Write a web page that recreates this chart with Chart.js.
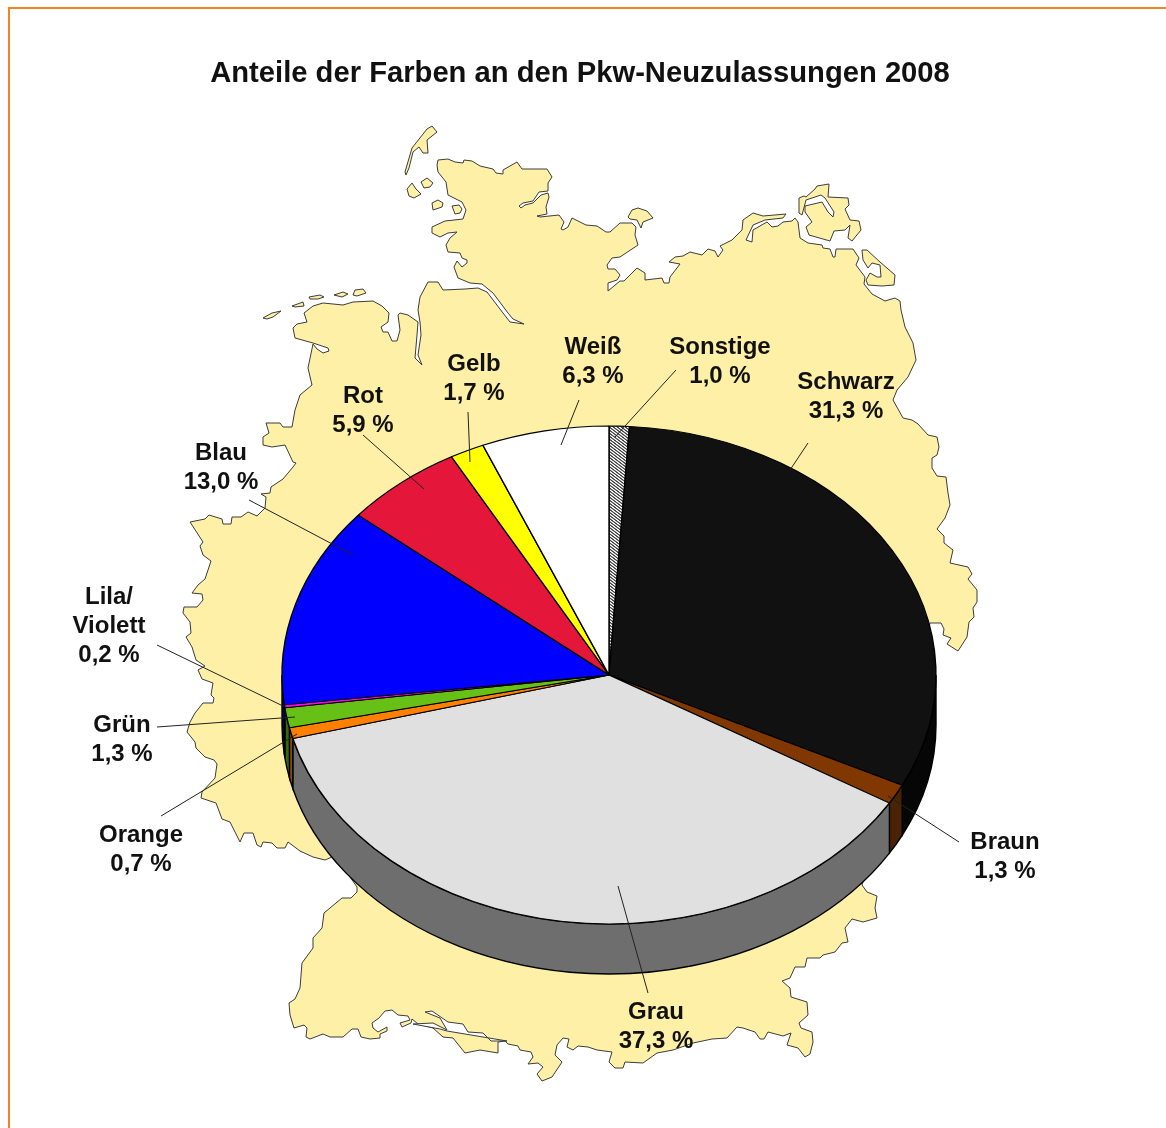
<!DOCTYPE html>
<html lang="de">
<head>
<meta charset="utf-8">
<title>Anteile der Farben an den Pkw-Neuzulassungen 2008</title>
<script src="https://cdn.jsdelivr.net/npm/chart.js@4"></script>
<style>
  html, body { margin: 0; padding: 0; background: #fff; }
  #page { position: relative; width: 1166px; height: 1128px; overflow: hidden; }
  #frame { position: absolute; left: 8px; top: 7px; right: -10px; bottom: -10px; border-top: 2px solid #f58220; border-left: 2px solid #f58220; }
  #map, #chart { position: absolute; left: 0; top: 0; }
  #map polygon { fill: #fef0a7; stroke: #3c3c3c; stroke-width: 1; stroke-linejoin: round; }
  #map polygon.lake { fill: #fff; }
</style>
</head>
<body>
<div id="page">
  <div id="frame"></div>
  <!-- background map, traced by hand -->
  <svg id="map" width="1166" height="1128">
    <polygon points="438,160 448,159 455,162 463,163 464,160 472,161 480,166 493,169 496,173 503,174 503,170 517,162 522,169 547,169 552,177 548,183 548,191 539,192 533,201 523,203 519,206 521,208 525,205 533,203 541,195 548,193 549,197 546,207 547,214 537,216 540,217 559,215 564,222 561,229 563,230 568,227 572,218 586,225 597,226 606,232 610,232 620,223 632,223 636,227 635,235 638,245 620,257 612,258 607,265 608,269 615,269 620,275 617,280 608,283 608,291 620,281 624,281 637,268 645,273 645,280 662,278 664,283 669,283 670,277 680,264 669,262 675,257 683,256 690,252 702,255 708,249 715,251 718,257 723,250 720,246 732,240 742,230 743,220 753,213 763,216 786,214 783,218 765,220 753,225 746,240 752,242 753,230 767,222 772,227 778,226 783,222 792,221 795,218 798,222 800,238 808,243 822,245 823,248 830,249 833,257 835,257 836,249 853,249 859,258 856,265 865,277 864,284 872,294 885,301 895,298 900,301 901,310 905,327 913,343 916,360 908,377 897,390 893,400 903,418 912,420 918,424 928,435 937,437 939,447 937,455 932,458 932,468 937,476 946,477 948,493 950,505 945,518 937,529 944,536 944,543 953,550 950,563 968,567 972,574 968,579 977,590 977,602 973,608 974,617 969,622 967,637 958,651 947,644 951,638 943,635 944,629 941,623 930,623 900,760 862,885 867,892 877,896 875,908 877,918 863,922 852,919 845,928 848,942 842,943 835,952 823,955 820,958 807,958 805,967 795,967 790,978 782,981 790,988 791,997 807,1002 808,1015 799,1023 801,1028 812,1032 813,1042 810,1054 805,1057 798,1048 787,1045 791,1033 783,1036 768,1032 764,1039 760,1039 755,1032 743,1028 737,1027 727,1038 712,1039 693,1043 673,1050 657,1053 643,1063 625,1062 623,1068 615,1068 609,1062 612,1052 597,1050 588,1047 578,1046 573,1050 567,1047 569,1039 563,1038 557,1045 555,1055 562,1062 552,1077 542,1081 537,1074 543,1067 538,1063 528,1064 533,1057 531,1052 520,1050 518,1046 508,1044 505,1041 498,1042 498,1053 480,1050 465,1053 453,1038 443,1037 433,1028 418,1024 412,1019 411,1023 402,1027 400,1023 410,1020 408,1016 398,1015 392,1010 385,1011 379,1018 372,1023 373,1028 378,1032 387,1027 387,1031 380,1034 380,1038 370,1039 361,1037 358,1029 352,1029 343,1037 330,1037 323,1034 310,1039 306,1037 307,1028 304,1025 294,1028 290,1015 289,1003 295,999 300,988 302,963 313,948 313,938 322,928 324,913 342,898 351,898 357,892 357,887 345,870 332,857 325,860 313,857 300,851 288,842 285,848 277,848 272,843 263,842 261,847 257,845 253,833 244,833 240,842 230,822 222,819 216,803 201,798 202,792 215,778 217,764 214,760 205,757 196,748 195,742 187,732 190,722 195,713 203,703 213,703 214,698 211,695 213,683 202,679 198,670 205,666 196,660 192,647 186,637 191,633 190,622 183,613 184,607 197,607 203,600 202,594 192,593 198,585 205,579 211,561 203,555 200,546 203,542 190,522 205,519 209,515 222,519 223,524 231,524 232,517 241,517 248,512 257,516 265,508 266,497 261,494 270,493 271,487 283,479 293,467 296,463 293,462 285,445 272,447 263,445 263,437 269,433 266,423 280,423 283,427 292,427 295,410 300,395 312,385 308,368 313,344 317,349 323,353 329,351 328,348 313,343 295,338 293,328 297,324 307,322 304,313 313,306 323,303 343,305 353,302 373,301 382,306 389,313 388,322 381,327 383,332 388,332 392,341 397,341 400,330 398,315 400,313 408,315 418,322 417,335 415,358 422,365 418,355 421,335 420,322 418,310 420,297 428,282 438,282 443,290 465,289 478,288 487,292 503,313 510,322 524,324 513,319 508,313 493,293 482,284 470,283 458,278 454,267 457,261 462,267 467,263 467,260 462,258 460,253 448,252 446,245 450,238 457,232 448,233 440,237 432,233 432,227 445,221 463,219 466,210 462,202 448,195 446,182 438,172 437,165"/>
    <polygon class="lake" points="425,1012 432,1011 448,1022 463,1024 468,1032 483,1033 491,1041 507,1041 447,1031 440,1029 413,1024 433,1023 447,1030 440,1018"/>
    <polygon points="427,129 432,126 437,132 427,140 428,153 423,153 419,147 413,152 409,168 406,175 405,172 412,148"/>
    <polygon points="421,182 427,178 433,183 430,187 424,188"/>
    <polygon points="407,189 412,183 416,189 421,194 414,198 409,196"/>
    <polygon points="432,203 438,200 443,203 442,207 433,210"/>
    <polygon points="452,206 459,205 462,209 460,213 455,214"/>
    <polygon points="628,217 632,210 638,208 647,211 653,218 643,222 641,228 637,220 630,219"/>
    <polygon points="263,318 272,313 281,311 273,317 267,319"/>
    <polygon points="292,306 303,302 304,306 295,307"/>
    <polygon points="309,297 320,295 324,297 318,299 310,299"/>
    <polygon points="334,295 343,292 348,294 342,297"/>
    <polygon points="353,295 355,290 363,289 366,293 357,296"/>
    <polygon points="799,198 804,196 806,197 815,189 817,186 829,184 828,197 848,198 849,205 845,209 850,220 859,221 861,230 852,241 848,238 850,225 845,230 834,231 830,241 809,235 806,227 812,222 805,212 805,206 822,202 828,212 833,217 834,212 825,198 821,195 806,200 802,215 799,213"/>
    <polygon points="862,250 867,250 880,262 895,275 894,285 882,286 868,285 866,280 870,273 877,277 881,277 880,265 872,263 868,268 863,260"/>
  </svg>
  <canvas id="chart" width="1166" height="1128"></canvas>
</div>

<script>
  const categories = ['Sonstige', 'Schwarz', 'Braun', 'Grau', 'Orange', 'Grün', 'Lila/\nViolett', 'Blau', 'Rot', 'Gelb', 'Weiß']
  const shares = [1.0, 31.3, 1.3, 37.3, 0.7, 1.3, 0.2, 13.0, 5.9, 1.7, 6.3]
  const topColors = ['#999', '#111111', '#803800', '#e0e0e0', '#ff8000', '#66c015', '#ff00ff', '#0000ff', '#e4163a', '#ffff00', '#ffffff']
  const wallColors = ['#555', '#060606', '#4a2206', '#6e6e6e', '#8a4a08', '#356a0a', '#800080', '#000080', '#801020', '#808000', '#808080']

  // label position: centre x, first line y
  const labelSpots = [[720, 347], [846, 382], [1005, 842], [656, 1012], [141, 835], [122, 725], [109, 597], [221, 453], [363, 396], [474, 364], [593, 347]]
  // leader line from label to slice
  const leaders = [[676, 370, 615, 437], [808, 443, 790, 470], [959, 842, 888, 796], [648, 993, 618, 886], [161, 816, 297, 734], [157, 727, 295, 717], [157, 645, 283, 706], [249, 500, 353, 555], [363, 435, 424, 489], [468, 412, 470, 462], [579, 400, 561, 445]]

  const pieX = 609
  const pieY = 675
  const pieRx = 327
  const pieRy = 249
  const pieDepth = 50
  const lineGap = 29

  function speckle() {
    const c = document.createElement('canvas')
    c.width = 4
    c.height = 4
    const p = c.getContext('2d')
    p.fillStyle = '#fff'
    p.fillRect(0, 0, 4, 4)
    p.fillStyle = '#444'
    p.fillRect(0, 0, 2, 1)
    p.fillRect(1, 1, 2, 1)
    p.fillRect(2, 2, 2, 1)
    p.fillRect(3, 3, 1, 1)
    p.fillRect(0, 3, 1, 1)
    return p.createPattern(c, 'repeat')
  }

  function shareLabel(v) {
    return v.toFixed(1).replace('.', ',') + ' %'
  }

  // squash the flat pie into an ellipse and put the side wall under it
  const tiltedPie = {
    id: 'tiltedPie',
    beforeDatasetsDraw(chart) {
      const ctx = chart.ctx
      const arcs = chart.getDatasetMeta(0).data
      ctx.save()
      ctx.strokeStyle = '#000'
      ctx.lineWidth = 1.4
      arcs.forEach((arc, i) => {
        const a = Math.max(arc.startAngle, 0)
        const b = Math.min(arc.endAngle, Math.PI)
        if (a >= b) return
        ctx.beginPath()
        ctx.ellipse(pieX, pieY, pieRx, pieRy, 0, a, b)
        ctx.ellipse(pieX, pieY + pieDepth, pieRx, pieRy, 0, b, a, true)
        ctx.closePath()
        ctx.fillStyle = wallColors[i]
        ctx.fill()
        ctx.stroke()
      })
      ctx.restore()
      ctx.save()
      ctx.translate(pieX, pieY)
      ctx.scale(1, pieRy / pieRx)
      ctx.translate(-arcs[0].x, -arcs[0].y)
    },
    afterDatasetsDraw(chart) {
      const ctx = chart.ctx
      ctx.restore()
      ctx.save()
      ctx.strokeStyle = '#222'
      ctx.lineWidth = 1
      leaders.forEach(l => {
        ctx.beginPath()
        ctx.moveTo(l[0], l[1])
        ctx.lineTo(l[2], l[3])
        ctx.stroke()
      })
      ctx.fillStyle = '#111'
      ctx.font = 'bold 24px "Liberation Sans", Arial, sans-serif'
      ctx.textAlign = 'center'
      ctx.textBaseline = 'middle'
      categories.forEach((name, i) => {
        const lines = name.split('\n').concat(shareLabel(shares[i]))
        lines.forEach((text, k) => ctx.fillText(text, labelSpots[i][0], labelSpots[i][1] + k * lineGap))
      })
      ctx.restore()
    }
  }

  new Chart(document.getElementById('chart'), {
    type: 'pie',
    data: {
      labels: categories,
      datasets: [{
        data: shares,
        backgroundColor: topColors.map((c, i) => i === 0 ? speckle() : c),
        borderColor: '#000',
        borderWidth: 1.4,
        radius: pieRx,
        clip: false
      }]
    },
    options: {
      responsive: false,
      animation: false,
      layout: { padding: { top: 56, right: 6 } },
      plugins: {
        legend: { display: false },
        tooltip: { enabled: false },
        title: {
          display: true,
          text: 'Anteile der Farben an den Pkw-Neuzulassungen 2008',
          color: '#111',
          font: { family: '"Liberation Sans", Arial, sans-serif', size: 29.2, weight: 'bold' },
          padding: 0
        }
      }
    },
    plugins: [tiltedPie]
  })
</script>
</body>
</html>
